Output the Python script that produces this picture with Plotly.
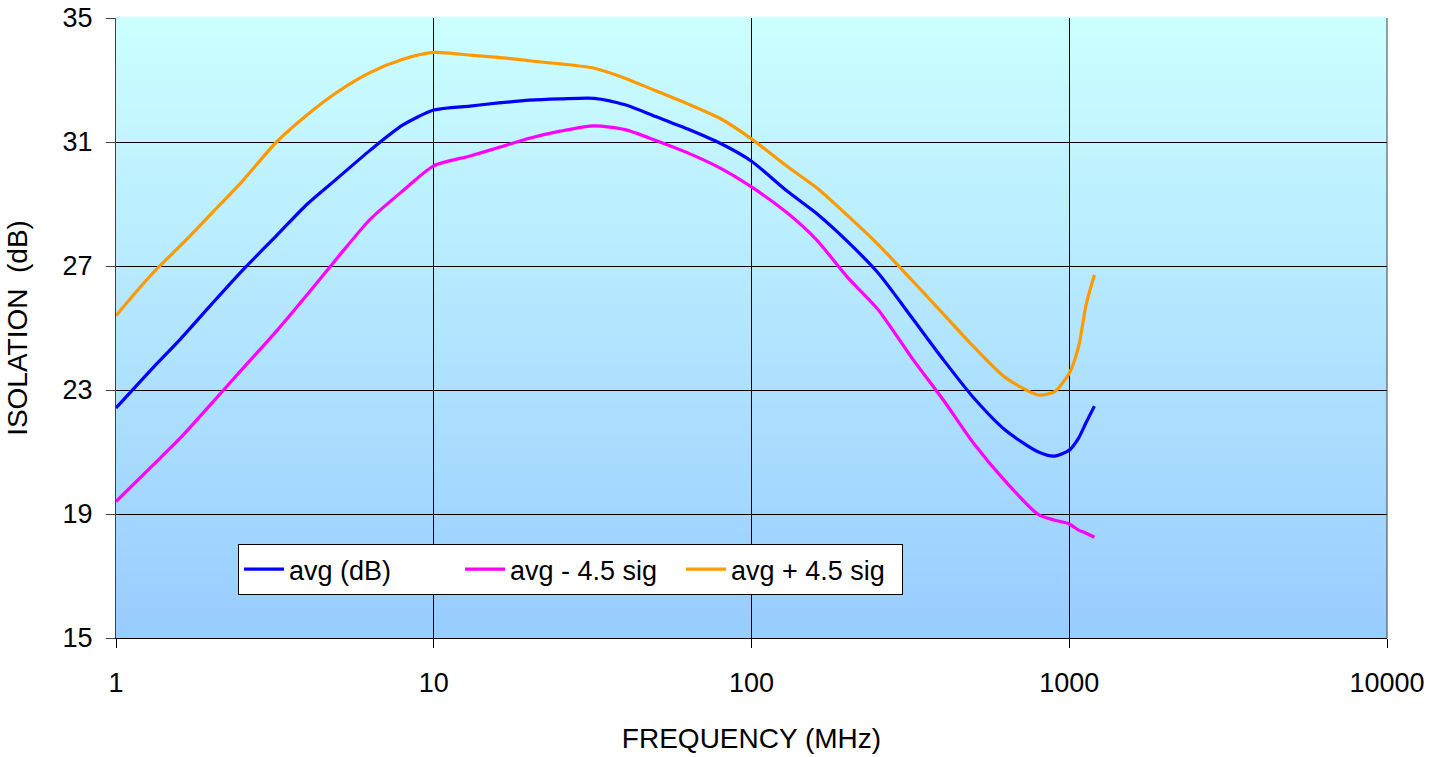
import plotly.graph_objects as go

# ---------------- data ----------------
freq_mhz = [1, 1.3, 1.6, 2, 2.5, 3.2, 4, 5, 6.3, 8,
            10, 13, 16, 20, 25, 32, 40, 50, 63, 80,
            100, 130, 160, 200, 250, 320, 400, 500, 630, 800,
            900, 1000, 1070, 1130, 1200]

avg_db = [22.42, 23.69, 24.66, 25.77, 26.86, 27.98, 29.00, 29.85, 30.73, 31.55,
          32.03, 32.16, 32.26, 32.35, 32.39, 32.41, 32.20, 31.82, 31.42, 30.95,
          30.38, 29.40, 28.70, 27.80, 26.78, 25.33, 24.00, 22.75, 21.70, 21.00,
          20.87, 21.06, 21.45, 21.95, 22.48]

avg_minus = [19.40, 20.55, 21.47, 22.57, 23.68, 24.90, 26.08, 27.29, 28.50, 29.43,
             30.23, 30.55, 30.82, 31.12, 31.35, 31.52, 31.40, 31.05, 30.65, 30.15,
             29.55, 28.70, 27.85, 26.65, 25.60, 24.03, 22.70, 21.28, 20.05, 18.98,
             18.80, 18.68, 18.48, 18.38, 18.25]

avg_plus = [25.40, 26.75, 27.67, 28.70, 29.74, 31.00, 31.88, 32.63, 33.24, 33.67,
            33.89, 33.80, 33.73, 33.62, 33.52, 33.38, 33.06, 32.65, 32.23, 31.75,
            31.10, 30.20, 29.53, 28.64, 27.70, 26.54, 25.47, 24.40, 23.40, 22.84,
            22.95, 23.54, 24.40, 25.75, 26.71]

series_names = ["avg (dB)", "avg - 4.5 sig", "avg + 4.5 sig"]
series_colors = ["#0000FF", "#FF00FF", "#FF9900"]

x_tickvals = [1, 10, 100, 1000, 10000]
x_ticktext = ["1", "10", "100", "1000", "10000"]
y_tickvals = [15, 19, 23, 27, 31, 35]

# ---------------- figure ----------------
FONT = "Arial, Liberation Sans, sans-serif"
fig = go.Figure()
for name, ys, col in zip(series_names, [avg_db, avg_minus, avg_plus], series_colors):
    fig.add_trace(go.Scatter(x=freq_mhz, y=ys, mode="lines", name=name,
                             line=dict(color=col, width=3.2, shape="spline", smoothing=0.7)))

# vertical gradient background (light cyan top -> light blue bottom)
top = (204, 255, 255)
bot = (153, 204, 255)
n = 124
shapes = []
for i in range(n):
    t = (i + 0.5) / n
    c = tuple(round(bot[k] + (top[k] - bot[k]) * t) for k in range(3))
    shapes.append(dict(type="rect", xref="x domain", yref="y domain",
                       x0=0, x1=1, y0=i / n, y1=(i + 1) / n + 0.002,
                       fillcolor="rgb(%d,%d,%d)" % c, line=dict(width=0),
                       layer="below"))

fig.update_layout(
    width=1453, height=757,
    margin=dict(l=116, r=66, t=18, b=119),
    paper_bgcolor="white",
    plot_bgcolor="rgb(170,225,255)",
    font=dict(family=FONT, size=27, color="black"),
    shapes=shapes,
    showlegend=True,
    legend=dict(orientation="h", x=0.096, y=0.1516, xanchor="left", yanchor="top",
                bgcolor="white", bordercolor="black", borderwidth=1,
                font=dict(family=FONT, size=27, color="black"),
                entrywidth=166, entrywidthmode="pixels",
                itemwidth=40, tracegroupgap=0),
)

fig.update_xaxes(type="log", range=[0, 4], tickvals=x_tickvals, ticktext=x_ticktext,
                 automargin=False,
                 showgrid=True, gridcolor="black", gridwidth=1,
                 showline=True, linecolor="black", linewidth=1, mirror=False,
                 ticks="outside", ticklen=9, tickcolor="black", ticklabelstandoff=12,
                 title=dict(text="FREQUENCY (MHz)", font=dict(size=28), standoff=30),
                 tickfont=dict(size=27), zeroline=False)
fig.update_yaxes(range=[15, 35], tickvals=y_tickvals, automargin=False,
                 showgrid=True, gridcolor="black", gridwidth=1,
                 showline=True, linecolor="#404040", linewidth=1,
                 ticks="outside", ticklen=9, tickcolor="#404040", ticklabelstandoff=8,
                 title=dict(text="ISOLATION  (dB)", font=dict(size=28), standoff=26),
                 tickfont=dict(size=27), zeroline=False)

# right border of the plotting area
fig.add_shape(type="line", xref="x domain", yref="y domain", x0=1, x1=1, y0=0, y1=1,
              line=dict(color="#404040", width=1), layer="above")

fig.write_html("out.html")
